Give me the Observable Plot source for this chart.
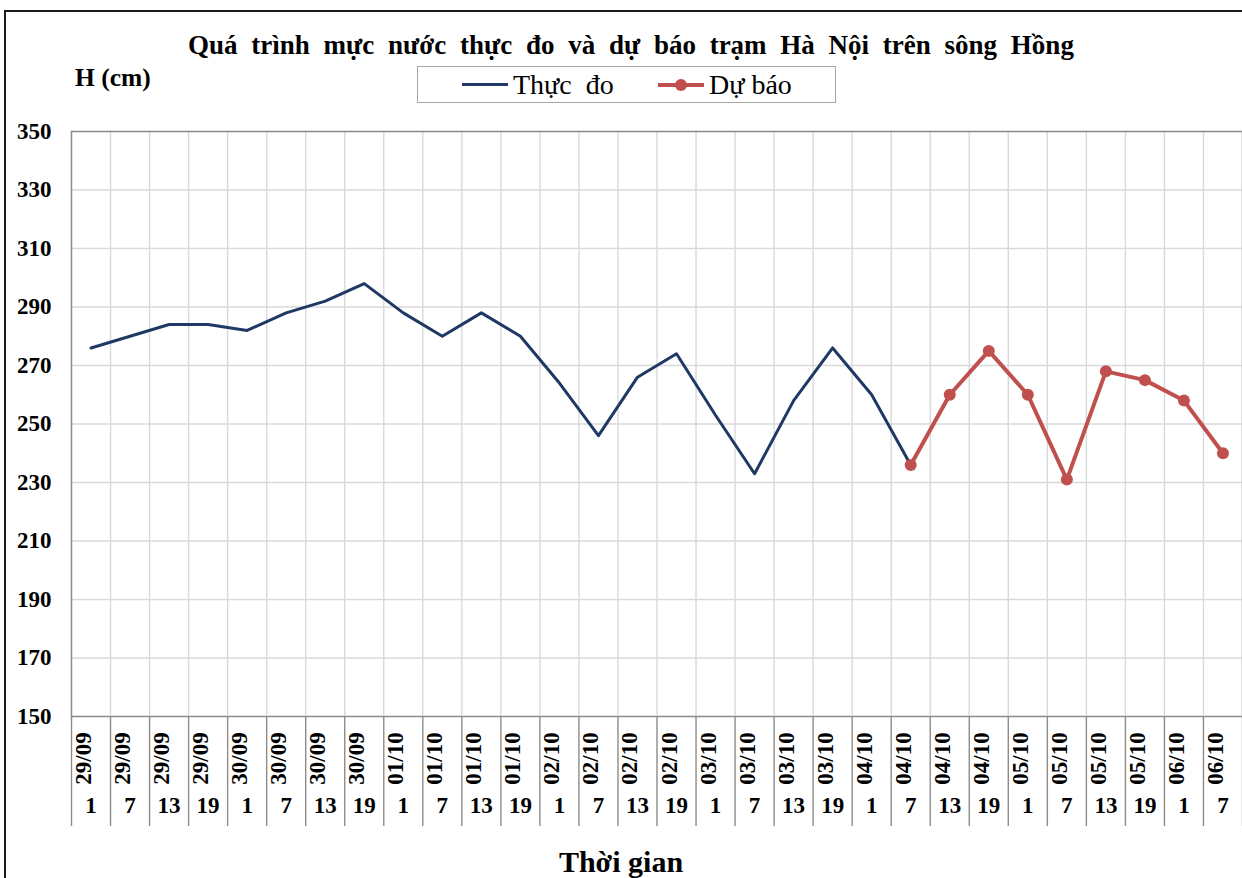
<!DOCTYPE html>
<html><head><meta charset="utf-8">
<script src="https://cdn.jsdelivr.net/npm/d3@7"></script>
<script src="https://cdn.jsdelivr.net/npm/@observablehq/plot@0.6"></script>
<style>
html,body{margin:0;padding:0;background:#fff;overflow:hidden;}
#wrap{position:relative;width:1242px;height:878px;overflow:hidden;font-family:"Liberation Serif","Times New Roman",serif;color:#000;}
#border{position:absolute;left:4px;top:10px;width:1400px;height:1000px;border-left:2px solid #1a1a1a;border-top:2px solid #1a1a1a;box-sizing:border-box;}
#chart{position:absolute;left:0;top:0;}
#title{position:absolute;left:0;width:1262px;top:28px;text-align:center;font-weight:bold;font-size:27px;line-height:34px;word-spacing:7px;}
#ylab{position:absolute;left:75px;top:63px;font-weight:bold;font-size:25.5px;line-height:30px;}
#xlab{position:absolute;left:0;width:1242px;top:845px;text-align:center;font-weight:bold;font-size:30px;line-height:34px;}
#legend{position:absolute;left:417px;top:66px;width:419px;height:37px;border:1.5px solid #a6a6a6;box-sizing:border-box;font-family:"Liberation Serif","Times New Roman",serif;font-size:28px;}
.item{position:absolute;top:0;height:100%;display:flex;align-items:center;}
.sw{position:relative;width:46px;height:4px;margin-right:5px;}
.dotsw{position:absolute;left:17px;top:-4px;width:12px;height:12px;border-radius:50%;}
</style></head>
<body>
<div id="wrap">
  <div id="chart"></div>
  <div id="border"></div>
  <div id="title">Quá trình mực nước thực đo và dự báo trạm Hà Nội trên sông Hồng</div>
  <div id="ylab">H (cm)</div>
  <div id="legend"></div>
  <div id="xlab">Thời gian</div>
</div>
<script>
// ---- data ----
const dates = ["29/09","29/09","29/09","29/09","30/09","30/09","30/09","30/09",
  "01/10","01/10","01/10","01/10","02/10","02/10","02/10","02/10",
  "03/10","03/10","03/10","03/10","04/10","04/10","04/10","04/10",
  "05/10","05/10","05/10","05/10","06/10","06/10"];
const hours = [1,7,13,19,1,7,13,19,1,7,13,19,1,7,13,19,1,7,13,19,1,7,13,19,1,7,13,19,1,7];
const observed = [276,280,284,284,282,288,292,298,288,280,288,280,264,246,266,274,253,233,258,276,260,236];
const forecastStart = 21;
const forecast = [236,260,275,260,231,268,265,258,240];
const yTicks = [150,170,190,210,230,250,270,290,310,330,350];
const seriesNames = ["Thực  đo","Dự báo"];
const colors = ["#203864","#c0504d"];

const idx = dates.map((d,i)=>i);
const boundaries = d3.range(dates.length+1).map(k=>k-0.5);
const obsData = observed.map((v,i)=>({i, v}));
const fcData = forecast.map((v,k)=>({i:k+forecastStart, v}));
const ff = '"Liberation Serif","Times New Roman",serif';

const chart = Plot.plot({
  width:1242, height:878,
  marginLeft:71, marginRight:0, marginTop:131, marginBottom:162,
  x:{domain:[-0.5, dates.length-0.5], axis:null},
  y:{domain:[150,350], axis:null},
  style:{fontFamily:ff, background:"transparent", color:"#000"},
  marks:[
    Plot.gridY(yTicks, {stroke:"#d9d9d9", strokeOpacity:1, strokeWidth:1.4}),
    Plot.ruleX(boundaries, {stroke:"#d9d9d9", strokeWidth:1.4}),
    Plot.frame({stroke:"#8c8c8c", strokeWidth:1.4}),
    Plot.axisY({ticks:yTicks, tickSize:0, tickPadding:20, fontSize:23, fontWeight:"bold", label:null}),
    Plot.axisX({ticks:boundaries, tickSize:110, tickFormat:()=>"", stroke:"#8c8c8c", strokeWidth:1.4, label:null}),
    Plot.text(idx, {x:d=>d, text:d=>dates[d], frameAnchor:"bottom", rotate:-90, dy:42, fontSize:23, fontWeight:"bold"}),
    Plot.text(idx, {x:d=>d, text:d=>String(hours[d]), frameAnchor:"bottom", dy:96, fontSize:23, fontWeight:"bold"}),
    Plot.line(obsData, {x:"i", y:"v", stroke:colors[0], strokeWidth:3}),
    Plot.line(fcData, {x:"i", y:"v", stroke:colors[1], strokeWidth:4}),
    Plot.dot(fcData, {x:"i", y:"v", r:6, fill:colors[1], stroke:"none"})
  ]
});
document.getElementById("chart").appendChild(chart);

// legend
const lg = document.getElementById("legend");
const lefts = [44, 240];
seriesNames.forEach((name,k)=>{
  const it = document.createElement("div");
  it.className = "item"; it.style.left = lefts[k]+"px";
  const sw = document.createElement("div");
  sw.className = "sw"; sw.style.background = colors[k];
  sw.style.height = k===0 ? "3px" : "4px";
  if (k===1) { const d = document.createElement("div"); d.className="dotsw"; d.style.background=colors[k]; sw.appendChild(d); }
  it.appendChild(sw);
  const t = document.createElement("span"); t.textContent = name; t.style.whiteSpace="pre";
  it.appendChild(t);
  lg.appendChild(it);
});
</script>
</body></html>
